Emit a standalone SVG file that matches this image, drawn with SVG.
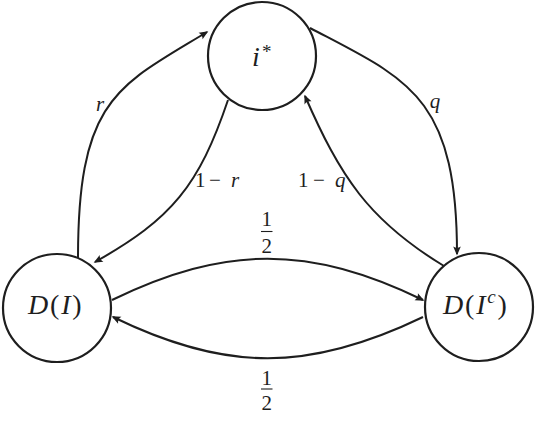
<svg xmlns="http://www.w3.org/2000/svg" width="536" height="444" viewBox="0 0 536 444">
<defs>
<style>
.node{fill:#fff;stroke:#1e1e1e;stroke-width:2.2}
.edge{fill:none;stroke:#1e1e1e;stroke-width:2;marker-end:url(#arr)}
text{font-family:"Liberation Serif","Times New Roman",serif;fill:#1e1e1e}
.lbl{font-size:21px}
.nl{font-size:28px}
.it{font-style:italic}
.bar{stroke:#1e1e1e;stroke-width:1.1}
</style>
<marker id="arr" markerWidth="12" markerHeight="10" viewBox="-10 -5 12 10" refX="0" refY="0" orient="auto" markerUnits="userSpaceOnUse">
<path d="M1.5,0 L-7.5,-3.8 Q-5,0 -7.5,3.8 Z" fill="#1e1e1e"/>
</marker>
</defs>
<rect width="536" height="444" fill="#fff"/>
<g id="connectors">
<path class="edge" d="M78,258 C78,98 118,86 207,32"/>
<path class="edge" d="M310,28 C407,79 457,95 457,254"/>
<path class="edge" d="M228,100 C199,185.5 172,219 95,262"/>
<path class="edge" d="M444,266 C368,220 340,176 305,96"/>
<path class="edge" d="M112,300 C226,245 309,245 423,300"/>
<path class="edge" d="M423,317 C309,372 226,372 113,317"/>
<text class="lbl it" x="100" y="111" text-anchor="middle">r</text>
<text class="lbl it" x="435" y="108" text-anchor="middle">q</text>
<text class="lbl" x="195" y="187">1<tspan x="209">−</tspan><tspan class="it" x="231">r</tspan></text>
<text class="lbl" x="298" y="187">1<tspan x="313">−</tspan><tspan class="it" x="335">q</tspan></text>
<text class="lbl" x="266.7" y="226" text-anchor="middle">1</text>
<line class="bar" x1="261" y1="231.5" x2="272.5" y2="231.5"/>
<text class="lbl" x="266.7" y="253" text-anchor="middle">2</text>
<text class="lbl" x="266.7" y="385" text-anchor="middle">1</text>
<line class="bar" x1="261" y1="389" x2="272.5" y2="389"/>
<text class="lbl" x="266.7" y="409.5" text-anchor="middle">2</text>
</g>
<g id="node-istar">
<circle class="node" cx="262" cy="56" r="54"/>
<text class="nl it" x="252" y="66">i</text>
<text x="262" y="58" font-size="19">*</text>
</g>
<g id="node-DI">
<circle class="node" cx="57" cy="308" r="54"/>
<text class="nl" x="28" y="314" letter-spacing="1.8"><tspan class="it">D</tspan>(<tspan class="it">I</tspan>)</text>
</g>
<g id="node-DIc">
<circle class="node" cx="479" cy="307" r="54"/>
<text class="nl" x="443" y="314" letter-spacing="1.8"><tspan class="it">D</tspan>(<tspan class="it">I</tspan><tspan class="it" font-size="19" dy="-11">c</tspan><tspan dy="11">)</tspan></text>
</g>
</svg>
